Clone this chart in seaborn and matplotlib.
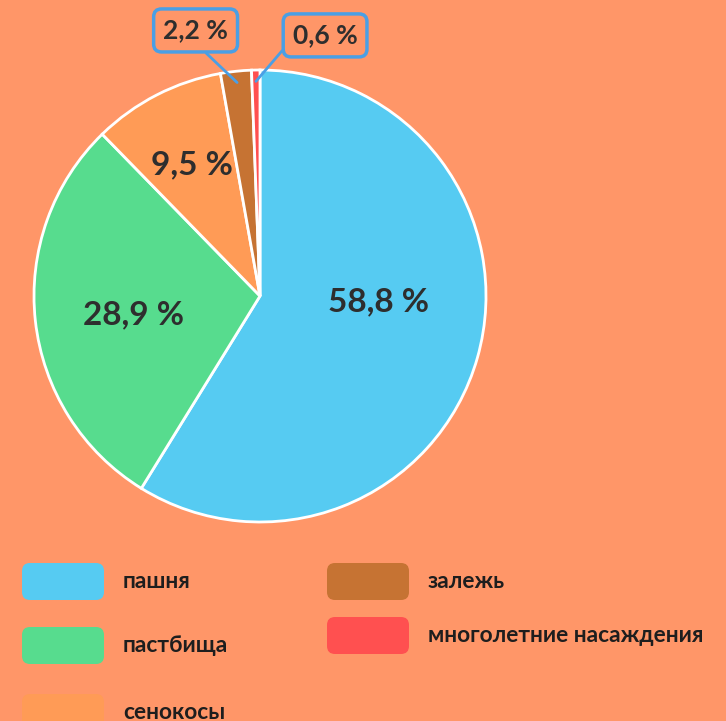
import matplotlib.pyplot as plt
import seaborn as sns
import numpy as np
from matplotlib.patches import FancyBboxPatch

# данные
categories = ['пашня', 'пастбища', 'сенокосы', 'залежь', 'многолетние насаждения']
shares = [58.8, 28.9, 9.5, 2.2, 0.6]
labels = ['58,8 %', '28,9 %', '9,5 %', '2,2 %', '0,6 %']
colors = ['#56CBF2', '#57DC8E', '#FF9B56', '#C67333', '#FF5050']

bg = '#FF9668'
text_color = '#2E2E2E'
box_color = '#4A9FE5'

sns.set_theme(style='white')
plt.rcParams['font.family'] = ['Lato', 'DejaVu Sans']

W, H = 726, 721
fig = plt.figure(figsize=(W / 100, H / 100), dpi=100, facecolor=bg)

# pie
cx, cy, r = 260, 296, 226
ax = fig.add_axes([(cx - r) / W, (H - cy - r) / H, 2 * r / W, 2 * r / H])
wedges, _ = ax.pie(shares, colors=colors, startangle=90, counterclock=False,
                   radius=1, wedgeprops=dict(edgecolor='white', linewidth=2))
ax.set_xlim(-1, 1)
ax.set_ylim(-1, 1)
ax.set_aspect('equal')
ax.axis('off')

# подписи внутри секторов
inside_dist = [0.523, 0.568, 0.655]
angle_shift = [13, 2.2, 0]
for i in range(3):
    w = wedges[i]
    ang = np.deg2rad((w.theta1 + w.theta2) / 2 + angle_shift[i])
    ax.text(inside_dist[i] * np.cos(ang), inside_dist[i] * np.sin(ang), labels[i],
            ha='center', va='center', fontsize=24, fontweight='bold', color=text_color)

# выноски для маленьких секторов
box_pos = [(-0.285, 1.175), (0.288, 1.153)]
rel_pos = [(0.49, 0.0), (0.0, 0.38)]
for j, i in enumerate([3, 4]):
    w = wedges[i]
    ang = np.deg2rad((w.theta1 + w.theta2) / 2)
    ax.annotate(labels[i], xy=(0.95 * np.cos(ang), 0.95 * np.sin(ang)),
                xytext=box_pos[j], ha='center', va='center',
                fontsize=19, fontweight='bold', color=text_color,
                annotation_clip=False,
                bbox=dict(boxstyle='round,pad=0.36,rounding_size=0.3',
                          fc='none', ec=box_color, lw=2.5),
                arrowprops=dict(arrowstyle='-', color=box_color, lw=2,
                                relpos=rel_pos[j], shrinkA=0, shrinkB=0))

# легенда
lax = fig.add_axes([0, 0, 1, 1])
lax.set_xlim(0, W)
lax.set_ylim(H, 0)
lax.axis('off')
leg_x = [22, 22, 22, 327, 327]
leg_y = [563, 627, 694, 563, 617]
sw_w, sw_h = 82, 37
for name, col, x, y in zip(categories, colors, leg_x, leg_y):
    lax.add_patch(FancyBboxPatch((x + 8, y + 8), sw_w - 16, sw_h - 16,
                                 boxstyle='round,pad=8', fc=col, ec='none'))
    lax.text(x + 101, y + sw_h / 2, name, ha='left', va='center',
             fontsize=16.4, fontweight='bold', color='#1E1E1E')

fig.savefig('out.png', dpi=100, facecolor=bg)
